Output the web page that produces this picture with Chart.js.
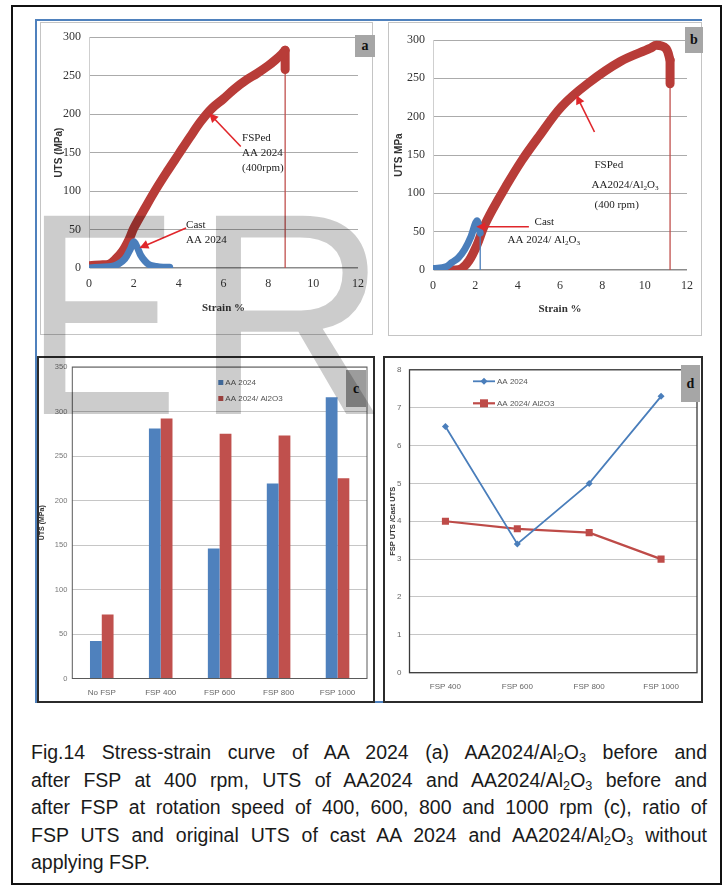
<!DOCTYPE html>
<html>
<head>
<meta charset="utf-8">
<script src="https://cdn.jsdelivr.net/npm/chart.js@4.4.1/dist/chart.umd.min.js"></script>
<style>
  html, body { margin: 0; padding: 0; background: #fff; }
  body { position: relative; width: 726px; height: 885px; overflow: hidden; }
  .line { position: absolute; }
  .box { position: absolute; box-sizing: border-box; }
  canvas { position: absolute; filter: blur(0.4px); }
  .tag { position: absolute; background: #a6a6a6; color: #111;
         font: bold 14px 'Liberation Serif', 'Times New Roman', serif;
         display: flex; align-items: center; justify-content: center; }
  .wm { position: absolute; font-family: 'Liberation Sans', Arial, sans-serif;
        font-size: 288px; line-height: 1; color: rgba(0,0,0,0.2);
        transform-origin: 0 0; white-space: nowrap; pointer-events: none; }
  #caption { position: absolute; left: 31px; width: 676px; top: 739px;
             font: 19.5px 'Liberation Sans', Arial, sans-serif; color: #1a1a1a; }
  #caption div { text-align: justify; text-align-last: justify; height: 27.5px; line-height: 27.5px; white-space: nowrap; }
  #caption div.last { text-align-last: left; }
  #caption sub { font-size: 0.65em; vertical-align: -0.25em; line-height: 0; }
</style>
</head>
<body>

<!-- page frame -->
<div class="box" style="left:11px;top:5px;width:711px;height:880px;border:2px solid #111;"></div>
<!-- figure outline -->
<div class="line" style="left:35px;top:19px;width:667px;height:2px;background:#4f81bd;"></div>
<div class="line" style="left:35px;top:19px;width:2px;height:684px;background:#4f81bd;"></div>
<div class="line" style="left:35px;top:701px;width:667px;height:2px;background:#4f81bd;"></div>

<div class="box" style="left:40px;top:22px;width:333px;height:313px;border:1px solid #c4c4c4;"></div>
<div class="box" style="left:388px;top:22px;width:314px;height:314px;border:1px solid #c4c4c4;"></div>

<canvas id="chartA" width="333" height="313" style="left:40px;top:22px;"></canvas>
<canvas id="chartB" width="314" height="314" style="left:388px;top:22px;"></canvas>
<canvas id="chartC" width="337" height="345" style="left:37px;top:357px;"></canvas>
<canvas id="chartD" width="318" height="345" style="left:384px;top:357px;"></canvas>

<div class="box" style="left:37px;top:356px;width:338px;height:347px;border:2px solid #2b2b2b;"></div>
<div class="box" style="left:383px;top:356px;width:320px;height:347px;border:2px solid #2b2b2b;"></div>

<div class="tag" style="left:355px;top:35px;width:20px;height:22px;">a</div>
<div class="tag" style="left:685px;top:27px;width:18px;height:26px;">b</div>
<div class="tag" style="left:346px;top:370px;width:20px;height:37px;background:#9c9c9c;">c</div>
<div class="tag" style="left:681px;top:365px;width:19px;height:37px;">d</div>

<!-- journal watermark -->
<div class="wm" style="left:25px;top:170px;transform:scaleX(0.8);">E</div>
<div class="wm" style="left:194px;top:170px;transform:scaleX(0.93);">R</div>

<div id="caption">
  <div>Fig.14 Stress-strain curve of AA 2024 (a) AA2024/Al<sub>2</sub>O<sub>3</sub> before and</div>
  <div>after FSP at 400 rpm, UTS of AA2024 and AA2024/Al<sub>2</sub>O<sub>3</sub> before and</div>
  <div>after FSP at rotation speed of 400, 600, 800 and 1000 rpm (c), ratio of</div>
  <div>FSP UTS and original UTS of cast AA 2024 and AA2024/Al<sub>2</sub>O<sub>3</sub> without</div>
  <div class="last">applying FSP.</div>
</div>

<script>
// ---------- data ----------
// (a) stress–strain curves, AA 2024
const strainCastA  = [0, 0.5, 1.0, 1.3, 1.6, 1.85, 2.0, 2.15, 2.3, 2.5, 2.7, 3.0, 3.3, 3.6];
const stressCastA  = [0, 1, 2, 5, 12, 25, 34, 27, 17, 9, 4, 2, 1, 1];
const strainFspA   = [0, 0.5, 0.9, 1.2, 1.5, 1.8, 2.0, 2.5, 3.0, 3.5, 4.0, 4.5, 5.0, 5.5, 6.0, 6.5, 7.0, 7.5, 8.0, 8.3, 8.6, 8.75];
const stressFspA   = [3, 4, 5, 12, 22, 38, 52, 78, 103, 126, 148, 170, 191, 208, 220, 233, 244, 253, 263, 270, 278, 283];
const dropStressA  = 258;   // stress after the load drop at fracture

// (b) stress–strain curves, AA2024/Al2O3
const strainCastB  = [0, 0.6, 0.9, 1.2, 1.5, 1.8, 2.07, 2.23];
const stressCastB  = [2, 4, 10, 16, 27, 44, 64, 48];
const strainFspB   = [0.65, 1.0, 1.35, 1.7, 2.07, 2.4, 2.8, 3.44, 4.2, 5.0, 6.07, 7.3, 8.85, 10.25, 10.56, 11.0, 11.2];
const stressFspB   = [0, 0, 2, 12, 32, 56, 78, 109, 143, 174, 213, 243, 272, 289, 293, 289, 274];
const dropStressB  = 243;

// (c) UTS (MPa) by processing condition
const conditions   = ['No FSP', 'FSP 400', 'FSP 600', 'FSP 800', 'FSP 1000'];
const utsAA2024    = [42, 281, 146, 219, 316];
const utsComposite = [72, 292, 275, 273, 225];

// (d) FSP UTS / cast UTS
const fspSpeeds      = ['FSP 400', 'FSP 600', 'FSP 800', 'FSP 1000'];
const ratioAA2024    = [6.5, 3.4, 5.0, 7.3];
const ratioComposite = [4.0, 3.8, 3.7, 3.0];

// ---------- styling ----------
const SERIF  = "'Liberation Serif', 'Times New Roman', serif";
const SANS   = "'Liberation Sans', Arial, sans-serif";
const NARROW = "'Liberation Sans Narrow', 'Liberation Sans', Arial, sans-serif";
const BLUE = '#4a7ebb', RED = '#be4b48', BAR_BLUE = '#4f81bd', BAR_RED = '#c0504d', CURVE_RED = '#b83c38';

Chart.defaults.font.family = SANS;
Chart.defaults.animation = false;
Chart.defaults.responsive = false;
Chart.defaults.devicePixelRatio = 1;
Chart.defaults.plugins.legend.display = false;
Chart.defaults.plugins.tooltip.enabled = false;

const pts = (xs, ys) => xs.map((x, i) => ({ x, y: ys[i] }));
const last = a => a[a.length - 1];

// text with "_2"-style subscripts
function drawRich(ctx, str, x, y, size, family, weight) {
  const parts = str.split(/(_\d)/).filter(s => s.length);
  let cx = x;
  parts.forEach(p => {
    const sub = p[0] === '_';
    const t = sub ? p.slice(1) : p;
    const s = sub ? size * 0.65 : size;
    ctx.font = `${weight || 'normal'} ${s}px ${family}`;
    ctx.fillText(t, cx, sub ? y + size * 0.28 : y);
    cx += ctx.measureText(t).width;
  });
}

// arrows and text placed in data coordinates
const notes = {
  id: 'notes',
  afterDatasetsDraw(chart, args, opts) {
    const { ctx, scales: { x, y } } = chart;
    ctx.save();
    (opts.arrows || []).forEach(a => {
      const x1 = x.getPixelForValue(a.from[0]), y1 = y.getPixelForValue(a.from[1]);
      const x2 = x.getPixelForValue(a.to[0]),   y2 = y.getPixelForValue(a.to[1]);
      const ang = Math.atan2(y2 - y1, x2 - x1), hl = 9, hw = 4.5;
      ctx.strokeStyle = '#e0262b'; ctx.fillStyle = '#e0262b'; ctx.lineWidth = 1.6;
      ctx.beginPath(); ctx.moveTo(x1, y1);
      ctx.lineTo(x2 - Math.cos(ang) * hl * 0.8, y2 - Math.sin(ang) * hl * 0.8); ctx.stroke();
      ctx.beginPath(); ctx.moveTo(x2, y2);
      ctx.lineTo(x2 - hl * Math.cos(ang) + hw * Math.sin(ang), y2 - hl * Math.sin(ang) - hw * Math.cos(ang));
      ctx.lineTo(x2 - hl * Math.cos(ang) - hw * Math.sin(ang), y2 - hl * Math.sin(ang) + hw * Math.cos(ang));
      ctx.closePath(); ctx.fill();
    });
    ctx.fillStyle = '#222'; ctx.textBaseline = 'middle'; ctx.textAlign = 'left';
    (opts.labels || []).forEach(l => {
      const px = x.getPixelForValue(l.at[0]), py = y.getPixelForValue(l.at[1]);
      l.lines.forEach((t, i) => drawRich(ctx, t, px + (l.dx ? l.dx[i] : 0), py + i * l.gap, l.size, SERIF));
    });
    ctx.restore();
  }
};

// dark outline around the plotting area
const plotFrame = {
  id: 'plotFrame',
  afterDatasetsDraw(chart, args, opts) {
    const { ctx, chartArea: a } = chart;
    ctx.save();
    ctx.strokeStyle = opts.color; ctx.lineWidth = opts.width;
    ctx.strokeRect(a.left, a.top, a.right - a.left, a.bottom - a.top);
    ctx.restore();
  }
};

// legend drawn inside the plotting area
const innerLegend = {
  id: 'innerLegend',
  afterDatasetsDraw(chart, args, opts) {
    const { ctx, chartArea: a } = chart;
    ctx.save();
    ctx.font = `${opts.size}px ${NARROW}`;
    ctx.textBaseline = 'middle'; ctx.textAlign = 'left';
    chart.data.datasets.forEach((ds, i) => {
      const x0 = a.left + opts.x, y0 = a.top + opts.y + i * opts.gap;
      let tx;
      if (opts.kind === 'bar') {
        ctx.fillStyle = ds.backgroundColor; ctx.fillRect(x0, y0 - 2.5, 5, 5); tx = x0 + 7;
      } else {
        ctx.strokeStyle = ds.borderColor; ctx.lineWidth = ds.borderWidth;
        ctx.beginPath(); ctx.moveTo(x0, y0); ctx.lineTo(x0 + 22, y0); ctx.stroke();
        ctx.fillStyle = ds.backgroundColor;
        const r = ds.pointRadius;
        if (ds.pointStyle === 'rectRot') {
          ctx.beginPath(); ctx.moveTo(x0 + 11, y0 - r); ctx.lineTo(x0 + 11 + r, y0);
          ctx.lineTo(x0 + 11, y0 + r); ctx.lineTo(x0 + 11 - r, y0); ctx.closePath(); ctx.fill();
        } else {
          ctx.fillRect(x0 + 11 - r * 0.8, y0 - r * 0.8, r * 1.6, r * 1.6);
        }
        tx = x0 + 24;
      }
      ctx.fillStyle = '#555';
      ctx.fillText(ds.label, tx, y0);
    });
    ctx.restore();
  }
};

function stressStrainOptions(cfg) {
  return {
    layout: { padding: cfg.pad },
    scales: {
      x: {
        type: 'linear', min: 0, max: 12,
        ticks: { stepSize: 2, font: { family: SERIF, size: 12 }, color: '#333', padding: 9 },
        grid: { display: false, drawTicks: false },
        border: { display: false },
        title: { display: true, text: 'Strain %', color: '#333',
                 font: { family: SERIF, size: 11, weight: 'bold' }, padding: { top: 0, bottom: cfg.xTitlePad } },
        afterFit: s => { s.height = cfg.xHeight; }
      },
      y: {
        min: 0, max: 300,
        ticks: { stepSize: 50, font: { family: SERIF, size: 12 }, color: '#333', padding: 8 },
        grid: { drawTicks: false, color: c => c.tick.value === 0 ? '#8c8c8c' : '#ababab', lineWidth: c => c.tick.value === 0 ? 1.4 : 1 },
        border: { display: true, color: '#cfcfcf' },
        title: { display: true, text: cfg.yTitle, color: '#333',
                 font: { family: SANS, size: 10, weight: 'bold' }, padding: { top: cfg.yTitlePad, bottom: 0 } },
        afterFit: s => { s.width = cfg.yWidth; }
      }
    },
    plugins: { notes: cfg.notes }
  };
}

const band = (data, color, width) => ({
  data, showLine: true, borderColor: color, borderWidth: width, pointRadius: 0,
  tension: 0.35, borderJoinStyle: 'round', borderCapStyle: 'round'
});
const thin = (data, color) => ({ data, showLine: true, borderColor: color, borderWidth: 1.3, pointRadius: 0 });

// ---------- (a) ----------
new Chart(document.getElementById('chartA'), {
  type: 'scatter',
  data: { datasets: [
    { label: 'Cast AA 2024', ...band(pts(strainCastA, stressCastA), BLUE, 7) },
    { label: 'FSPed AA 2024 (400 rpm)', ...band(pts(strainFspA, stressFspA), CURVE_RED, 9) },
    { label: 'load drop', ...band([{ x: last(strainFspA), y: last(stressFspA) }, { x: last(strainFspA), y: dropStressA }], CURVE_RED, 9) },
    { label: 'fracture', ...thin([{ x: last(strainFspA), y: dropStressA }, { x: last(strainFspA), y: 0 }], BAR_RED) }
  ]},
  options: stressStrainOptions({
    pad: { top: 15, right: 14, left: 0, bottom: 0 }, xHeight: 67, yWidth: 49,
    xTitlePad: 20, yTitle: 'UTS (MPa)', yTitlePad: 13,
    notes: {
      arrows: [ { from: [6.77, 158], to: [5.36, 201] }, { from: [4.33, 52], to: [2.25, 26] } ],
      labels: [
        { at: [6.83, 169], lines: ['FSPed', 'AA 2024', '(400rpm)'], gap: 15, size: 11 },
        { at: [4.33, 56], lines: ['Cast', 'AA 2024'], gap: 15, size: 11 }
      ]
    }
  }),
  plugins: [notes]
});

// ---------- (b) ----------
new Chart(document.getElementById('chartB'), {
  type: 'scatter',
  data: { datasets: [
    { label: 'Cast AA 2024/Al2O3', ...band(pts(strainCastB, stressCastB), BLUE, 7) },
    { label: 'cast fracture', ...thin([{ x: last(strainCastB), y: last(stressCastB) }, { x: last(strainCastB), y: 0 }], BLUE) },
    { label: 'FSPed AA2024/Al2O3 (400 rpm)', ...band(pts(strainFspB, stressFspB), CURVE_RED, 9) },
    { label: 'load drop', ...band([{ x: last(strainFspB), y: last(stressFspB) }, { x: last(strainFspB), y: dropStressB }], CURVE_RED, 9) },
    { label: 'fracture', ...thin([{ x: last(strainFspB), y: dropStressB }, { x: last(strainFspB), y: 0 }], BAR_RED) }
  ]},
  options: stressStrainOptions({
    pad: { top: 18, right: 11, left: 0, bottom: 0 }, xHeight: 66, yWidth: 45,
    xTitlePad: 20, yTitle: 'UTS MPa', yTitlePad: 5,
    notes: {
      arrows: [ { from: [7.63, 180], to: [6.77, 228] }, { from: [4.53, 56.5], to: [2.05, 56.5] } ],
      labels: [
        { at: [7.63, 137], lines: ['FSPed', 'AA2024/Al_2O_3', '(400 rpm)'], gap: 20, size: 11, dx: [0, -3, 0] },
        { at: [4.8, 63], lines: ['Cast', 'AA 2024/ Al_2O_3'], gap: 18, size: 11, dx: [0, -27] }
      ]
    }
  }),
  plugins: [notes]
});

// ---------- (c) ----------
new Chart(document.getElementById('chartC'), {
  type: 'bar',
  data: { labels: conditions, datasets: [
    { label: 'AA 2024', data: utsAA2024, backgroundColor: BAR_BLUE },
    { label: 'AA 2024/ Al2O3', data: utsComposite, backgroundColor: BAR_RED }
  ]},
  options: {
    datasets: { bar: { categoryPercentage: 0.4, barPercentage: 1 } },
    layout: { padding: { top: 10, right: 7, left: 0, bottom: 0 } },
    scales: {
      x: {
        ticks: { font: { family: NARROW, size: 8 }, color: '#666', padding: 9 },
        grid: { display: false, drawTicks: false }, border: { display: false },
        afterFit: s => { s.height = 23.5; }
      },
      y: {
        min: 0, max: 350,
        ticks: { stepSize: 50, font: { family: NARROW, size: 7.5 }, color: '#777', padding: 5 },
        grid: { drawTicks: false, color: '#c6c6c6' }, border: { display: false },
        title: { display: true, text: 'UTS (MPa)', color: '#333', font: { family: SANS, size: 7, weight: 'bold' }, padding: { top: 1, bottom: 0 } },
        afterFit: s => { s.width = 35.3; }
      }
    },
    plugins: {
      plotFrame: { color: '#5a5a5a', width: 1 },
      innerLegend: { kind: 'bar', x: 146, y: 15.5, gap: 16, size: 8 }
    }
  },
  plugins: [plotFrame, innerLegend]
});

// ---------- (d) ----------
new Chart(document.getElementById('chartD'), {
  type: 'line',
  data: { labels: fspSpeeds, datasets: [
    { label: 'AA 2024', data: ratioAA2024, borderColor: BLUE, backgroundColor: BLUE, borderWidth: 1.8,
      pointStyle: 'rectRot', pointRadius: 3.5, pointBorderWidth: 0, tension: 0 },
    { label: 'AA 2024/ Al2O3', data: ratioComposite, borderColor: RED, backgroundColor: RED, borderWidth: 2.2,
      pointStyle: 'rect', pointRadius: 5, pointBorderWidth: 0, tension: 0 }
  ]},
  options: {
    layout: { padding: { top: 6.5, right: 1, left: 0, bottom: 0 } },
    scales: {
      x: {
        offset: true,
        ticks: { font: { family: NARROW, size: 8 }, color: '#666', padding: 9 },
        grid: { display: false, drawTicks: false }, border: { display: false },
        afterFit: s => { s.height = 29.3; }
      },
      y: {
        min: 0, max: 8,
        ticks: { stepSize: 1, font: { family: NARROW, size: 8 }, color: '#666', padding: 8 },
        grid: { drawTicks: false, color: '#c6c6c6' }, border: { display: false },
        title: { display: true, text: 'FSP UTS /Cast UTS', color: '#333', font: { family: SANS, size: 7.5, weight: 'bold' }, padding: { top: 4, bottom: 0 } },
        afterFit: s => { s.width = 25.5; }
      }
    },
    plugins: {
      plotFrame: { color: '#3a3a3a', width: 1.3 },
      innerLegend: { kind: 'line', x: 63.5, y: 11.5, gap: 22, size: 8 }
    }
  },
  plugins: [plotFrame, innerLegend]
});
</script>
</body>
</html>
